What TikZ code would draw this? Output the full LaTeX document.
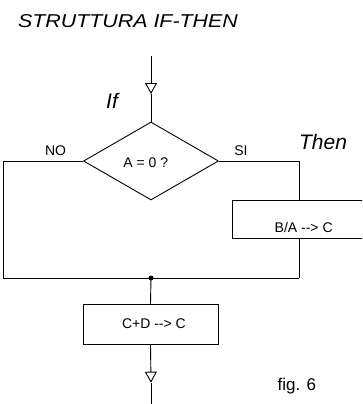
\documentclass[tikz,border=0pt]{standalone}
\usepackage{fontspec}
\setmainfont{Liberation Sans}
\newfontfamily\titlefont[FakeStretch=1.15]{Liberation Sans}
\usetikzlibrary{shapes.geometric,arrows.meta}
\begin{document}
\begin{tikzpicture}[x=1pt,y=-1pt,line width=0.9pt,
  box/.style={draw,rectangle,inner sep=0pt,line width=0.9pt},
  dia/.style={draw,diamond,inner sep=0pt,line width=0.9pt,minimum width=135pt,minimum height=78pt,aspect=1.73},
  lbl/.style={anchor=base,inner sep=0pt,font=\fontsize{14}{16}\selectfont},
  big/.style={anchor=base,inner sep=0pt,font=\fontsize{21}{24}\selectfont\itshape},
  tipo/.style={-{Triangle[open,width=12pt,length=11pt,line width=0.9pt]}}]
\useasboundingbox (0,0) rectangle (362,404);
\clip (0,0) rectangle (362,404);
% shapes
\node[dia] (d) at (151,161) {};
\node[box,minimum width=134pt,minimum height=38pt] (b) at (299,219) {};
\node[box,minimum width=135pt,minimum height=40pt] (c) at (150.5,324) {};
% coordinates
\coordinate (start) at (151,56);
\coordinate (tipA) at (151,94);
\coordinate (nl) at (3,161);
\coordinate (nb) at (3,278);
\coordinate (sr) at (299,161);
\coordinate (br) at (299,278);
\coordinate (j) at (151,278);
\coordinate (tipB) at (151,382.7);
\coordinate (end) at (151,404);
% connectors
\draw[tipo] (start) -- (tipA);
\draw (tipA) -- (d.north);
\draw (d.west) -- (nl) -- (nb) -- (br);
\draw (d.east) -- (sr) -- (b.north);
\draw (b.south) -- (br);
\fill (j) circle (2.5);
\draw (j) -- (c.north);
\draw[tipo] (c.south) -- (tipB);
\draw (tipB) -- (end);
% texts
\node[anchor=base,inner sep=0pt,font=\fontsize{18.6}{22}\titlefont\itshape] (title) at (128,28) {STRUTTURA IF-THEN};
\node[big] (tif) at (112,108) {If};
\node[big] (tthen) at (323,149) {Then};
\node[lbl] (tno) at (55.5,155) {NO};
\node[lbl] (tsi) at (241,155.5) {SI};
\node[lbl] (ta) at (145.8,167.7) {A = 0 ?};
\node[lbl] (tb) at (303.7,232.7) {B/A -{}-> C};
\node[lbl] (tc) at (153.9,328.3) {C+D -{}-> C};
\node[anchor=base,inner sep=0pt,font=\fontsize{17}{20}\selectfont] (tfig) at (296.8,390) {fig. 6};
\end{tikzpicture}
\end{document}
